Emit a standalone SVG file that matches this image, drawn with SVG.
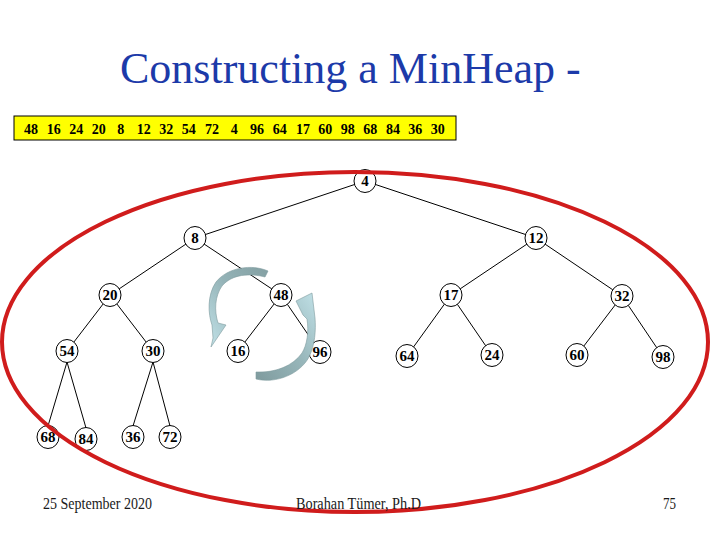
<svg xmlns="http://www.w3.org/2000/svg" width="720" height="540" viewBox="0 0 720 540">
<defs>
<style>
.title{font-family:"Liberation Serif","Times New Roman",serif;font-size:44px;fill:#1c3aa9}
.edge{stroke:#000;stroke-width:1;fill:none}
.node ellipse{fill:#fff;stroke:#000;stroke-width:1}
.node text{font-family:"Liberation Serif","Times New Roman",serif;font-weight:bold;font-size:15px;text-anchor:middle;fill:#000}
.arr{stroke:#7d9a9e;stroke-width:0.6}
.foot{font-family:"Liberation Serif","Times New Roman",serif;font-size:16px;fill:#1a1a1a}
.seq{font-family:"Liberation Serif","Times New Roman",serif;font-weight:bold;font-size:14px;fill:#000}
</style>
<linearGradient id="g1" x1="1" y1="0" x2="0" y2="1">
<stop offset="0" stop-color="#84a0a3"/>
<stop offset="0.45" stop-color="#93b2b6"/>
<stop offset="1" stop-color="#c2e2e8"/>
</linearGradient>
<linearGradient id="g2" x1="0" y1="1" x2="1" y2="0">
<stop offset="0" stop-color="#7f9b9e"/>
<stop offset="0.5" stop-color="#97b6ba"/>
<stop offset="1" stop-color="#c0e0e6"/>
</linearGradient>
</defs>
<rect width="720" height="540" fill="#fff"/>
<text class="title" x="120" y="83">Constructing a MinHeap -</text>
<g id="sequence">
<rect x="14" y="116" width="442" height="24" fill="#ffff00" stroke="#000" stroke-width="1"/>
<text class="seq" y="134"><tspan x="24">48</tspan> <tspan x="46.7">16</tspan> <tspan x="69.3">24</tspan> <tspan x="91.7">20</tspan> <tspan x="117.3">8</tspan> <tspan x="136.7">12</tspan> <tspan x="159.3">32</tspan> <tspan x="181.7">54</tspan> <tspan x="205">72</tspan> <tspan x="230.7">4</tspan> <tspan x="250">96</tspan> <tspan x="272.7">64</tspan> <tspan x="296">17</tspan> <tspan x="318.3">60</tspan> <tspan x="340.7">98</tspan> <tspan x="363.3">68</tspan> <tspan x="386">84</tspan> <tspan x="408.3">36</tspan> <tspan x="430.7">30</tspan></text>
</g>
<g id="connectors">
<line class="edge" x1="365" y1="181" x2="195" y2="238"/>
<line class="edge" x1="365" y1="181" x2="536" y2="238"/>
<line class="edge" x1="195" y1="238" x2="110" y2="295"/>
<line class="edge" x1="195" y1="238" x2="281" y2="295"/>
<line class="edge" x1="536" y1="238" x2="451" y2="295"/>
<line class="edge" x1="536" y1="238" x2="622" y2="296"/>
<line class="edge" x1="110" y1="295" x2="67" y2="351"/>
<line class="edge" x1="110" y1="295" x2="153" y2="351"/>
<line class="edge" x1="281" y1="295" x2="238" y2="351"/>
<line class="edge" x1="281" y1="295" x2="320" y2="352"/>
<line class="edge" x1="451" y1="295" x2="407" y2="356"/>
<line class="edge" x1="451" y1="295" x2="492" y2="355"/>
<line class="edge" x1="622" y1="296" x2="577" y2="355"/>
<line class="edge" x1="622" y1="296" x2="663" y2="357"/>
<line class="edge" x1="67" y1="362" x2="48" y2="426"/>
<line class="edge" x1="67" y1="362" x2="86" y2="428"/>
<line class="edge" x1="153" y1="362" x2="133" y2="426"/>
<line class="edge" x1="153" y1="362" x2="170" y2="426"/>
</g>
<g id="n4" class="node"><ellipse cx="365" cy="181" rx="11" ry="11.5"/><text x="365" y="186">4</text></g>
<g id="n8" class="node"><ellipse cx="195" cy="238" rx="11" ry="11.5"/><text x="195" y="243">8</text></g>
<g id="n12" class="node"><ellipse cx="536" cy="238" rx="11" ry="11.5"/><text x="536" y="243">12</text></g>
<g id="n20" class="node"><ellipse cx="110" cy="295" rx="11" ry="11.5"/><text x="110" y="300">20</text></g>
<g id="n48" class="node"><ellipse cx="281" cy="295" rx="11" ry="11.5"/><text x="281" y="300">48</text></g>
<g id="n17" class="node"><ellipse cx="451" cy="295" rx="11" ry="11.5"/><text x="451" y="300">17</text></g>
<g id="n32" class="node"><ellipse cx="622" cy="296" rx="11" ry="11.5"/><text x="622" y="301">32</text></g>
<g id="n54" class="node"><ellipse cx="67" cy="351" rx="11" ry="11.5"/><text x="67" y="356">54</text></g>
<g id="n30" class="node"><ellipse cx="153" cy="351" rx="11" ry="11.5"/><text x="153" y="356">30</text></g>
<g id="n16" class="node"><ellipse cx="238" cy="351" rx="11" ry="11.5"/><text x="238" y="356">16</text></g>
<g id="n96" class="node"><ellipse cx="320" cy="352" rx="11" ry="11.5"/><text x="320" y="357">96</text></g>
<g id="n64" class="node"><ellipse cx="407" cy="356" rx="11" ry="11.5"/><text x="407" y="361">64</text></g>
<g id="n24" class="node"><ellipse cx="492" cy="355" rx="11" ry="11.5"/><text x="492" y="360">24</text></g>
<g id="n60" class="node"><ellipse cx="577" cy="355" rx="11" ry="11.5"/><text x="577" y="360">60</text></g>
<g id="n98" class="node"><ellipse cx="663" cy="357" rx="11" ry="11.5"/><text x="663" y="362">98</text></g>
<g id="n68" class="node"><ellipse cx="48" cy="437" rx="11" ry="11.5"/><text x="48" y="442">68</text></g>
<g id="n84" class="node"><ellipse cx="86" cy="439" rx="11" ry="11.5"/><text x="86" y="444">84</text></g>
<g id="n36" class="node"><ellipse cx="133" cy="437" rx="11" ry="11.5"/><text x="133" y="442">36</text></g>
<g id="n72" class="node"><ellipse cx="170" cy="437" rx="11" ry="11.5"/><text x="170" y="442">72</text></g>
<g id="swap-arrows">
<path class="arr" fill="url(#g1)" d="M268,271 C252,264 228,267 216,282 C207,295 208,314 212,325 L213,338 L211,347 L226,325 L218,323 C214,310 215,296 222,286 C232,274 250,273 265,277 Z"/>
<path class="arr" fill="url(#g2)" d="M256,372 L256,379 C276,384 300,374 309,357 C315,345 316,330 315,318 L312,293 L296,301 L303,315 L307,319 C309,332 307,345 302,353 C293,366 275,373 256,372 Z"/>
</g>
<ellipse cx="355" cy="342" rx="353" ry="170" fill="none" stroke="#d01c1c" stroke-width="4"/>
<text class="foot" x="43" y="509" textLength="109" lengthAdjust="spacingAndGlyphs">25 September 2020</text>
<text class="foot" x="296" y="509" textLength="125" lengthAdjust="spacingAndGlyphs">Borahan Tümer, Ph.D</text>
<text class="foot" x="663" y="509" textLength="13" lengthAdjust="spacingAndGlyphs">75</text>
</svg>
